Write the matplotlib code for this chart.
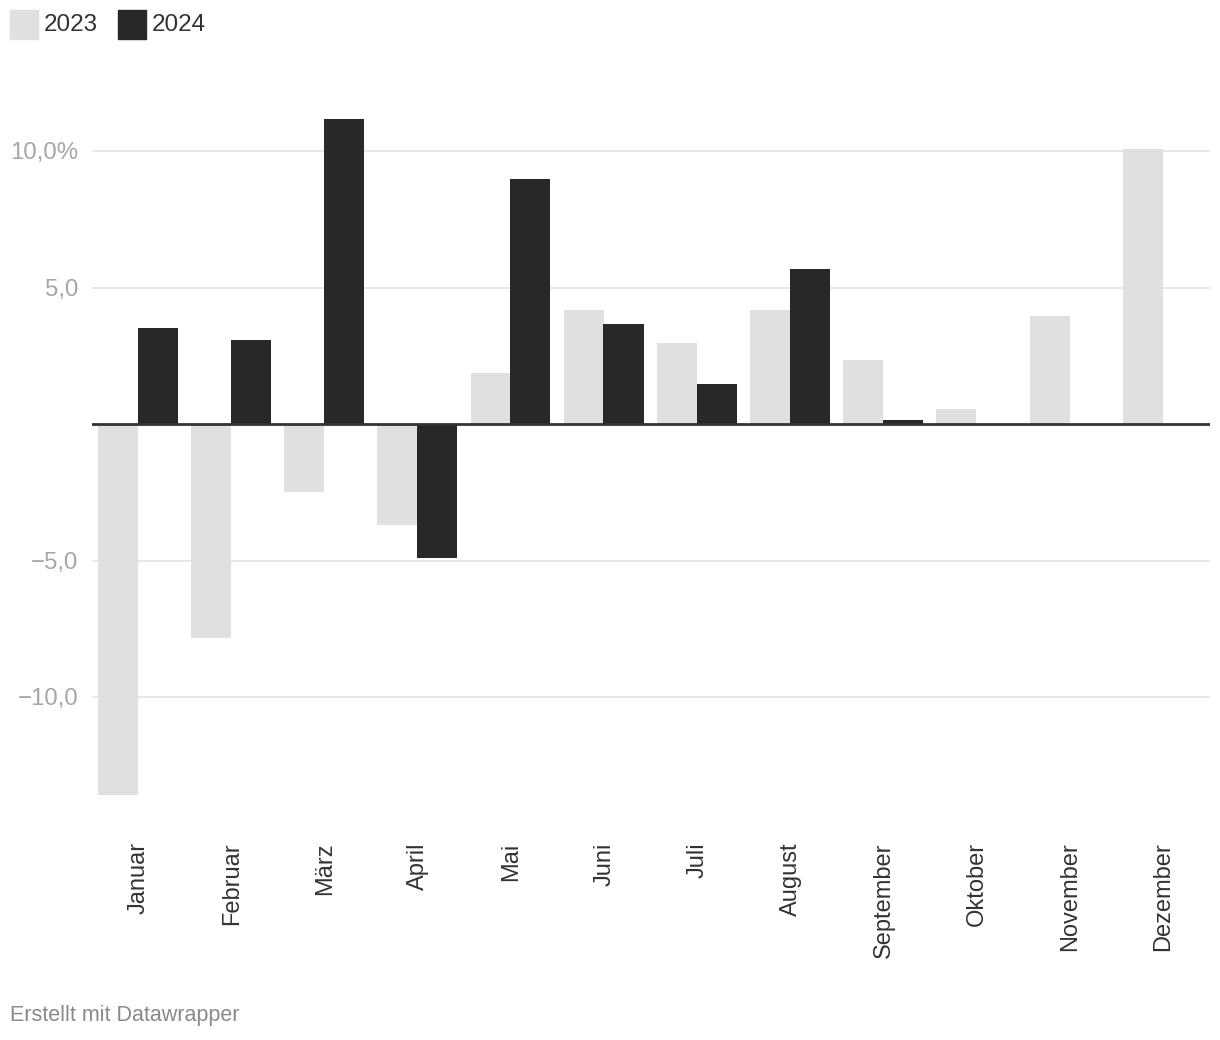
import numpy as np
import matplotlib
matplotlib.use("Agg")
import matplotlib.pyplot as plt
from matplotlib.patches import Rectangle

plt.rcParams['font.family'] = ['Liberation Sans', 'DejaVu Sans']

months = ['Januar', 'Februar', 'März', 'April', 'Mai', 'Juni', 'Juli',
          'August', 'September', 'Oktober', 'November', 'Dezember']
vals_2023 = [-13.6, -7.85, -2.5, -3.7, 1.87, 4.18, 2.97, 4.18, 2.34, 0.55, 3.96, 10.07]
vals_2024 = [3.5, 3.08, 11.17, -4.91, 8.97, 3.66, 1.47, 5.68, 0.15, np.nan, np.nan, np.nan]
yticks = [-10, -5, 5, 10]
ytick_labels = ['\u221210,0', '\u22125,0', '5,0', '10,0%']

c23 = '#e0e0e0'
c24 = '#282828'

W, H = 1220, 1040
fig = plt.figure(figsize=(W / 100, H / 100), dpi=100)

# axes box in pixels: x 92..1210, y=0 at 424, 27.3 px per unit
x0, x1 = 92, 1210
ymin, ymax = -14, 12
ppu = 27.3
top_px = 424 - ymax * ppu
bot_px = 424 - ymin * ppu
ax = fig.add_axes([x0 / W, 1 - bot_px / H, (x1 - x0) / W, (bot_px - top_px) / H])

x = np.arange(len(months))
w = 0.43
ax.bar(x - 0.222, vals_2023, width=w, color=c23, zorder=2)
ax.bar(x + 0.205, vals_2024, width=w, color=c24, zorder=2)

ax.set_xlim(-0.5, len(months) - 0.5)
ax.set_ylim(ymin, ymax)

for yt in yticks:
    ax.axhline(yt, color='#e3e3e3', lw=1.2, zorder=1)
ax.axhline(0, color='#333333', lw=2, zorder=3)

ax.set_yticks(yticks)
ax.set_yticklabels(ytick_labels)
ax.tick_params(axis='y', length=0, pad=10, labelsize=17.3, labelcolor='#a6a6a6')
ax.set_xticks(x)
ax.set_xticklabels(months, rotation=90, va='top', ha='center')
ax.tick_params(axis='x', length=0, pad=26, labelsize=17, labelcolor='#333333')

for s in ax.spines.values():
    s.set_visible(False)

# legend
fig.patches.append(Rectangle((10 / W, 1 - 39 / H), 28 / W, 29 / H,
                             transform=fig.transFigure, color=c23))
fig.text(44 / W, 1 - 25 / H, '2023', fontsize=17.5, color='#333333', va='center')
fig.patches.append(Rectangle((118 / W, 1 - 39 / H), 28 / W, 29 / H,
                             transform=fig.transFigure, color=c24))
fig.text(152 / W, 1 - 25 / H, '2024', fontsize=17.5, color='#333333', va='center')

fig.text(10 / W, 1 - 1015 / H, 'Erstellt mit Datawrapper', fontsize=15.5,
         color='#8a8a8a', va='center')

fig.savefig('out.png', dpi=100, facecolor='white')
